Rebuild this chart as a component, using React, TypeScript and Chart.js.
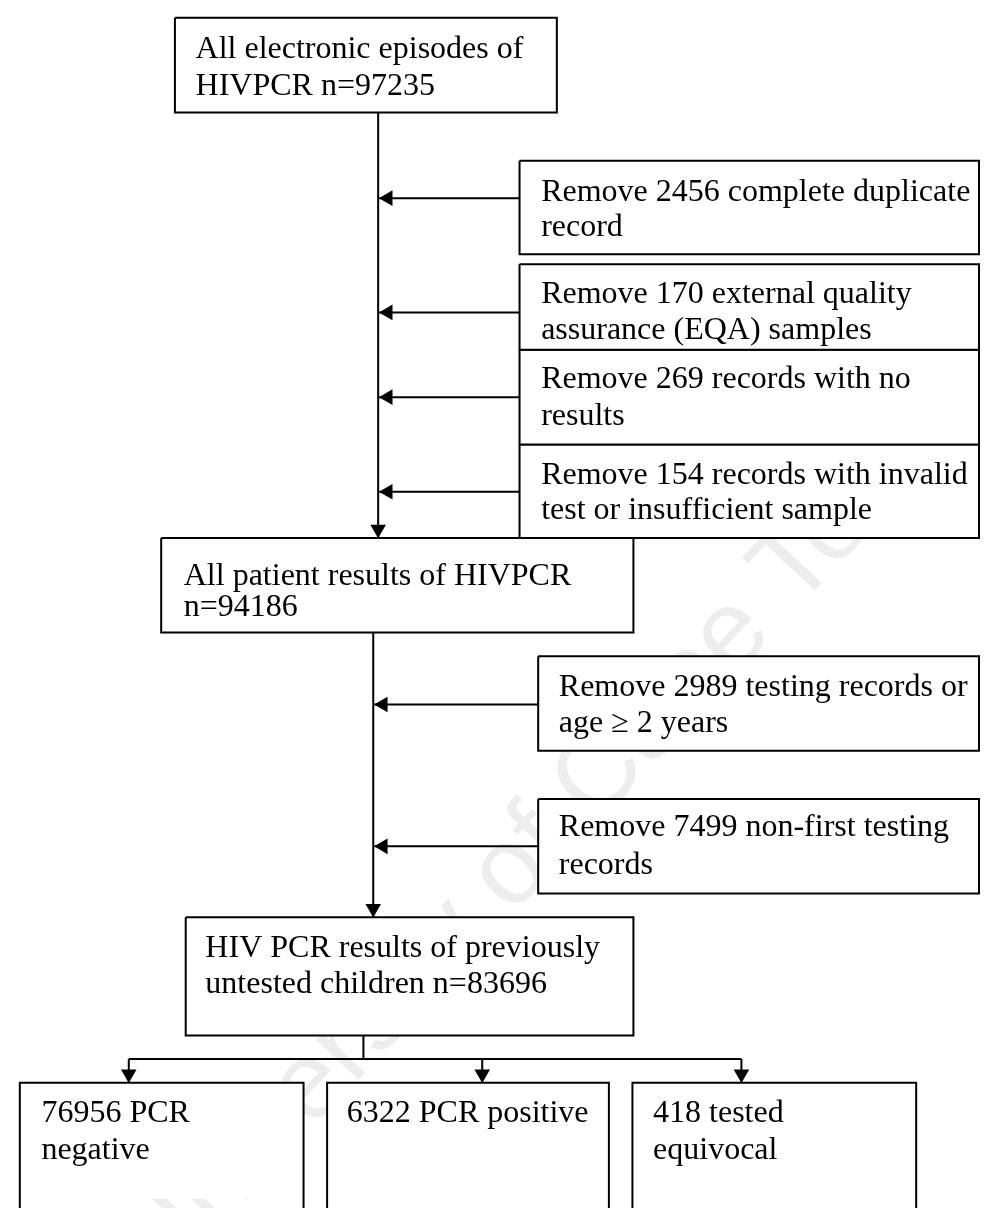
import React, { useEffect, useRef } from "react";
import { Chart, registerables } from "chart.js";

Chart.register(...registerables);

const W = 989;
const H = 1208;

// ---- flowchart content (box texts) ----
const boxText: string[][] = [
  ["All electronic episodes of", "HIVPCR n=97235"],
  ["Remove 2456 complete duplicate", "record"],
  ["Remove 170 external quality", "assurance (EQA) samples"],
  ["Remove 269 records with no", "results"],
  ["Remove 154 records with invalid", "test or insufficient sample"],
  ["All patient results of HIVPCR", "n=94186"],
  ["Remove 2989 testing records or", "age \u2265 2 years"],
  ["Remove 7499 non-first testing", "records"],
  ["HIV PCR results of previously", "untested children n=83696"],
  ["76956 PCR", "negative"],
  ["6322 PCR positive"],
  ["418 tested", "equivocal"],
];

// ---- box geometry (in chart units) ----
const boxX0 = [169, 520, 520, 520, 520, 155, 539, 539, 180, 11, 324, 635];
const boxX1 = [558, 988, 988, 988, 988, 636, 988, 988, 636, 300, 611, 924];
const boxY0 = [9, 154, 259, 346, 442, 537, 657, 802, 922, 1090, 1090, 1090];
const boxY1 = [105, 249, 346, 442, 537, 633, 753, 898, 1042, 1230, 1230, 1230];
const openBottom = [false, false, false, false, false, false, false, false, false, true, true, true];

// text anchor (left x, baseline of each line)
const textX = [190, 542, 542, 542, 542, 178, 560, 560, 200, 33, 344, 656];
const textBase1 = [50, 195, 298, 385, 482, 585, 697, 840, 962, 1130, 1130, 1130];
const textBase2 = [87, 230, 335, 422, 518, 616, 734, 878, 999, 1167, 1167, 1167];

// ---- connectors: start point -> end point; arrow = has arrowhead at end ----
const connFromX = [376, 520, 520, 520, 520, 371, 539, 539, 361, 122, 122, 482, 746];
const connFromY = [105, 192, 308, 394, 490, 633, 706, 850, 1042, 1066, 1066, 1066, 1066];
const connToX = [376, 377, 377, 377, 377, 371, 372, 372, 361, 746, 122, 482, 746];
const connToY = [537, 192, 308, 394, 490, 922, 706, 850, 1066, 1066, 1090, 1090, 1090];
const connArrow = [true, true, true, true, true, true, true, true, false, false, true, true, true];

const ARROW_R = 9;

const watermark = "University of Cape Town";

export default function App() {
  const ref = useRef<HTMLCanvasElement | null>(null);

  useEffect(() => {
    if (!ref.current) return;
    const datasets: any[] = [];

    // boxes (white-filled, drawn beneath connectors)
    for (let i = 0; i < boxText.length; i++) {
      const pts = openBottom[i]
        ? [
            { x: boxX0[i], y: boxY1[i] },
            { x: boxX0[i], y: boxY0[i] },
            { x: boxX1[i], y: boxY0[i] },
            { x: boxX1[i], y: boxY1[i] },
          ]
        : [
            { x: boxX0[i], y: boxY0[i] },
            { x: boxX1[i], y: boxY0[i] },
            { x: boxX1[i], y: boxY1[i] },
            { x: boxX0[i], y: boxY1[i] },
            { x: boxX0[i], y: boxY0[i] },
          ];
      datasets.push({
        type: "line",
        data: pts,
        borderColor: "#000",
        backgroundColor: "#ffffff",
        borderWidth: 2,
        pointRadius: 0,
        fill: "shape",
        tension: 0,
        borderJoinStyle: "miter",
        clip: false,
        order: 3,
      });
    }

    // connector lines
    for (let i = 0; i < connFromX.length; i++) {
      datasets.push({
        type: "line",
        data: [
          { x: connFromX[i], y: connFromY[i] },
          { x: connToX[i], y: connToY[i] },
        ],
        borderColor: "#000",
        borderWidth: 2,
        pointRadius: 0,
        fill: false,
        tension: 0,
        clip: false,
        order: 2,
      });
    }

    // arrowheads
    const heads: any[] = [];
    const rot: number[] = [];
    for (let i = 0; i < connFromX.length; i++) {
      if (!connArrow[i]) continue;
      const dx = connToX[i] - connFromX[i];
      const dy = connToY[i] - connFromY[i];
      const len = Math.hypot(dx, dy) || 1;
      const ux = dx / len;
      const uy = dy / len;
      heads.push({ x: connToX[i] - ux * ARROW_R, y: connToY[i] - uy * ARROW_R });
      rot.push((Math.atan2(ux, -uy) * 180) / Math.PI);
    }
    datasets.push({
      type: "scatter",
      data: heads,
      pointStyle: "triangle",
      pointRadius: ARROW_R,
      pointRotation: rot,
      backgroundColor: "#000",
      borderColor: "#000",
      borderWidth: 0,
      showLine: false,
      clip: false,
      order: 1,
    });

    const watermarkPlugin = {
      id: "watermark",
      beforeDatasetsDraw(chart: any) {
        const { ctx, scales } = chart;
        const x = scales.x.getPixelForValue(545);
        const y = scales.y.getPixelForValue(840);
        ctx.save();
        ctx.translate(x, y);
        ctx.rotate((-47 * Math.PI) / 180);
        ctx.font = "110px 'Liberation Sans', Arial, sans-serif";
        ctx.fillStyle = "rgba(0,0,0,0.07)";
        ctx.textAlign = "center";
        ctx.textBaseline = "middle";
        ctx.fillText(watermark, 0, 0);
        ctx.restore();
      },
    };

    const textPlugin = {
      id: "boxText",
      afterDatasetsDraw(chart: any) {
        const { ctx, scales } = chart;
        ctx.save();
        ctx.font = "32px 'Liberation Serif', 'Times New Roman', serif";
        ctx.fillStyle = "#000";
        ctx.textAlign = "left";
        ctx.textBaseline = "alphabetic";
        for (let i = 0; i < boxText.length; i++) {
          const lines = boxText[i];
          const bases = [textBase1[i], textBase2[i]];
          for (let j = 0; j < lines.length; j++) {
            ctx.fillText(
              lines[j],
              scales.x.getPixelForValue(textX[i]),
              scales.y.getPixelForValue(bases[j])
            );
          }
        }
        ctx.restore();
      },
    };

    const chart = new Chart(ref.current, {
      type: "scatter",
      data: { datasets },
      options: {
        animation: false,
        responsive: false,
        devicePixelRatio: 1,
        layout: { padding: 0 },
        events: [],
        plugins: {
          legend: { display: false },
          tooltip: { enabled: false },
          filler: { propagate: false },
        },
        scales: {
          x: { type: "linear", min: 0, max: W, display: false },
          y: { type: "linear", min: 0, max: H, reverse: true, display: false },
        },
      },
      plugins: [watermarkPlugin, textPlugin],
    } as any);

    return () => chart.destroy();
  }, []);

  return (
    <div style={{ position: "absolute", left: 0, top: 0, width: W, height: H, background: "#fff" }}>
      <canvas ref={ref} width={W} height={H} style={{ width: W, height: H, display: "block" }} />
    </div>
  );
}
